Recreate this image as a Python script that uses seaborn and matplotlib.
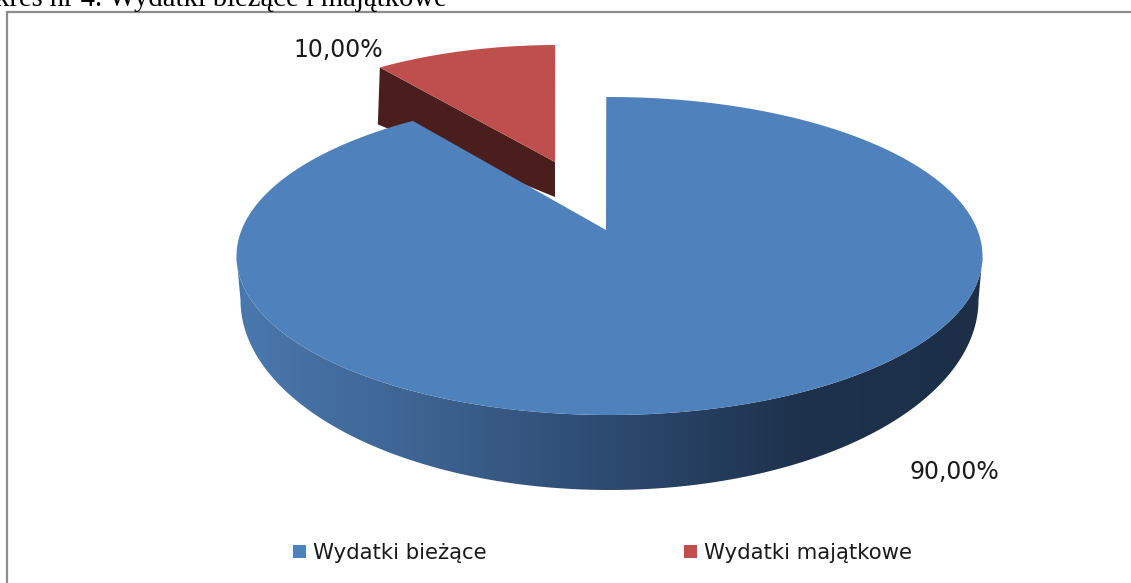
import matplotlib
matplotlib.use("Agg")
import matplotlib.pyplot as plt
import numpy as np
import seaborn as sns
from matplotlib.colors import LinearSegmentedColormap
from matplotlib.patches import Patch, Polygon, Rectangle

categories = ["Wydatki bieżące", "Wydatki majątkowe"]
shares = [90.0, 10.0]
value_labels = ["90,00%", "10,00%"]
caption = "kres nr 4. Wydatki bieżące i majątkowe"

sns.set_theme(style="white")
colors = sns.color_palette(["#4f81bd", "#be4f4c"])
RED_WALL = "#4b1e1e"
SIDE_STOPS = ["#4a78ae", "#3d6391", "#2d4a70", "#1e324d", "#1c2f47"]

# ellipse shapes, in pixels of the 1131x583 image
BLUE = dict(apex=(606, 230), cx=609.5, cy=256, rx=373, ry=159)
BLUE_BASE = dict(cx=609.5, cy=300, rx=369, ry=190)
RED = dict(apex=(555, 162), cx=558, cy=185, rx=328, ry=140)
RED_DEPTH = (-2, 35, 57)
# the tilted pie squeezes the angles near the back
BLUE_SQUEEZE = 0.87
RED_SQUEEZE = 0.9


def arc(e, t0, t1, n=200):
    t = np.radians(np.linspace(t0, t1, n))
    return np.column_stack([e["cx"] + e["rx"] * np.cos(t),
                            e["cy"] - e["ry"] * np.sin(t)])


fig = plt.figure(figsize=(11.31, 5.83), dpi=100)
ax = fig.add_axes([0, 0, 1, 1])
ax.set_xlim(0, 1131)
ax.set_ylim(583, 0)
ax.axis("off")

ax.add_patch(Rectangle((7, 12), 1130, 580, fc="white", ec="#8c8c8c", lw=1.6))
ax.text(-5, 6, caption, family="Liberation Serif", fontsize=20.6,
        color="black", ha="left", va="baseline", zorder=1)

sweep = 360 * shares[1] / sum(shares)
start = 90.5

# red slice
red_arc = arc(RED, start, start + sweep * RED_SQUEEZE)
left_pt = red_arc[-1]
wall = np.array([left_pt, RED["apex"],
                 (RED["apex"][0], RED["apex"][1] + RED_DEPTH[1]),
                 (left_pt[0] + RED_DEPTH[0], left_pt[1] + RED_DEPTH[2])])
ax.add_patch(Polygon(wall, fc=RED_WALL, ec="none", zorder=2))
ax.add_patch(Polygon(np.vstack([red_arc, RED["apex"]]), fc=colors[1],
                     ec="none", zorder=3))

# blue slice: side with a gradient, then the top
side = np.vstack([arc(BLUE, 180, 360), arc(BLUE_BASE, 360, 180)])
side_patch = Polygon(side, fc="none", ec="none", zorder=4)
ax.add_patch(side_patch)
cmap = LinearSegmentedColormap.from_list("side", SIDE_STOPS)
im = ax.imshow(np.linspace(0, 1, 256).reshape(1, -1), cmap=cmap, aspect="auto",
               extent=(236, 983, 500, 250), zorder=4)
im.set_clip_path(side_patch)
ax.set_xlim(0, 1131)
ax.set_ylim(583, 0)

blue_arc = arc(BLUE, start + sweep * BLUE_SQUEEZE, start + 360)
ax.add_patch(Polygon(np.vstack([blue_arc, BLUE["apex"]]), fc=colors[0],
                     ec="none", zorder=5))

ax.text(954.5, 472, value_labels[0], fontsize=17, color="#1a1a1a",
        ha="center", va="center", zorder=6)
ax.text(338, 50, value_labels[1], fontsize=17, color="#1a1a1a",
        ha="center", va="center", zorder=6)

handles = [Patch(fc=c, ec="none") for c in colors]
ax.legend(handles, categories, ncol=2, loc="center",
          bbox_to_anchor=(602.5 / 1131, 1 - 553 / 583), frameon=False,
          fontsize=15.3, handlelength=0.62, handleheight=0.62,
          handletextpad=0.3, columnspacing=9.3,
          labelcolor="#1a1a1a")

fig.savefig("out.png", dpi=100)
